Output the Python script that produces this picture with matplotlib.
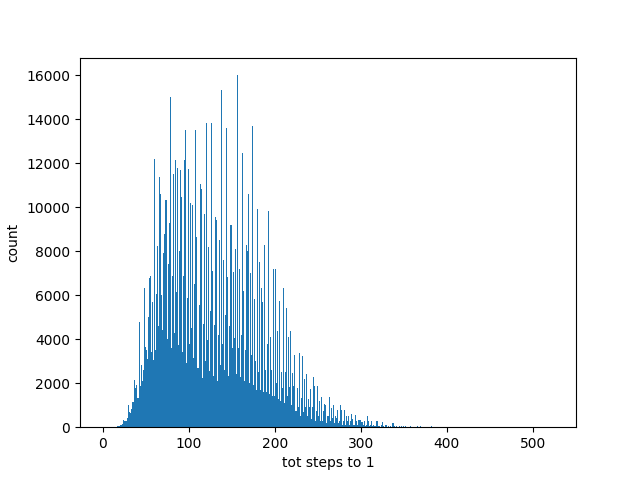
import numpy as np
import matplotlib
matplotlib.use("Agg")
import matplotlib.pyplot as plt

# how many starting numbers need each number of steps to reach 1
# (counts, one value per step count 0..524)
counts = [
    1, 1, 1, 1, 1, 2, 2, 3, 4, 6,
    6, 8, 10, 14, 18, 24, 29, 36, 44, 60,
    80, 95, 110, 140, 350, 270, 270, 270, 300, 400,
    1030, 700, 650, 850, 1150, 1150, 1150, 2140, 1780, 1920,
    1330, 1330, 1500, 4800, 1880, 2820, 2100, 2580, 6320, 3000,
    3650, 3500, 3120, 5000, 6760, 6860, 3420, 3420, 5700, 3050,
    12170, 3500, 6040, 8230, 8230, 4600, 11380, 10600, 6000, 4400,
    7900, 7900, 8770, 10350, 10350, 4000, 7400, 9270, 9270, 15010,
    3590, 6860, 11530, 4270, 12140, 3000, 6140, 11800, 3740, 8000,
    11700, 10470, 3000, 3430, 6860, 12140, 13530, 2900, 5860, 3000,
    11750, 3800, 10170, 4520, 10120, 3150, 3000, 6500, 13500, 8650,
    2700, 2700, 5550, 3000, 11070, 10820, 2240, 4680, 9680, 3010,
    3000, 13830, 3950, 8200, 2540, 5290, 13830, 3000, 7120, 2320,
    4640, 9560, 9400, 2090, 2500, 4180, 8500, 2820, 15320, 3770,
    7590, 2590, 2590, 5090, 13580, 6820, 2320, 4590, 9180, 9180,
    9180, 3600, 7050, 4050, 8100, 2400, 2400, 16000, 3600, 7180,
    2300, 4200, 12480, 2200, 6200, 2100, 3500, 8300, 8000, 10600,
    2000, 2000, 7020, 3300, 13680, 1900, 5820, 2000, 3000, 1700,
    9900, 2500, 7500, 1700, 1800, 6330, 5700, 1600, 8300, 2600,
    1600, 1600, 3800, 9830, 1500, 4120, 2600, 1400, 1400, 7200,
    1400, 7180, 2000, 4390, 1300, 1300, 5740, 1200, 2500, 1800,
    6320, 1100, 1100, 2490, 5400, 1400, 4080, 1830, 4360, 1000,
    1000, 2450, 1860, 3270, 720, 720, 1800, 1800, 900, 3360,
    500, 1320, 3230, 680, 680, 2180, 940, 2410, 500, 1270,
    900, 500, 1750, 380, 940, 2300, 1860, 260, 260, 720,
    1860, 500, 1180, 300, 1360, 300, 300, 720, 1060, 990,
    180, 530, 300, 530, 1360, 260, 890, 420, 1030, 200,
    180, 530, 420, 760, 180, 300, 200, 1030, 800, 120,
    300, 800, 120, 150, 500, 300, 530, 120, 260, 580,
    200, 390, 120, 80, 540, 300, 100, 100, 350, 350,
    350, 230, 230, 100, 260, 260, 60, 100, 500, 260,
    50, 80, 60, 300, 40, 100, 40, 60, 300, 100,
    260, 40, 60, 30, 80, 230, 40, 40, 30, 80,
    120, 30, 60, 30, 20, 75, 30, 180, 180, 40,
    30, 20, 45, 20, 30, 75, 20, 30, 45, 20,
    60, 15, 40, 20, 75, 15, 30, 20, 50, 15,
    25, 40, 12, 20, 30, 10, 50, 15, 20, 10,
    40, 10, 20, 8, 15, 30, 8, 12, 6, 10,
    15, 6, 10, 40, 8, 12, 4, 6, 3, 8,
    5, 3, 6, 2, 4, 8, 3, 2, 5, 2,
    3, 4, 1, 2, 5, 1, 2, 3, 1, 2,
    2, 1, 3, 1, 1, 2, 1, 0, 2, 1,
    1, 0, 1, 2, 0, 1, 0, 1, 1, 0,
    0, 1, 0, 1, 0, 0, 1, 0, 1, 0,
    1, 0, 0, 1, 0, 1, 0, 0, 0, 1,
    0, 0, 1, 0, 0, 0, 1, 0, 0, 0,
    0, 1, 0, 0, 0, 0, 0, 1, 0, 0,
    1, 0, 0, 0, 1, 0, 0, 0, 0, 0,
    0, 1, 0, 0, 0, 0, 0, 0, 1, 0,
    0, 0, 0, 1, 0, 0, 0, 0, 0, 0,
    0, 0, 0, 0, 1, 0, 0, 0, 0, 0,
    0, 0, 0, 0, 0, 0, 0, 0, 0, 1,
    0, 0, 0, 0, 1,
]
steps = np.arange(len(counts))

plt.figure(figsize=(6.4, 4.8), dpi=100)
plt.hist(steps, bins=len(steps), weights=counts)
plt.xlabel("tot steps to 1")
plt.ylabel("count")
plt.savefig("out.png", dpi=100)
